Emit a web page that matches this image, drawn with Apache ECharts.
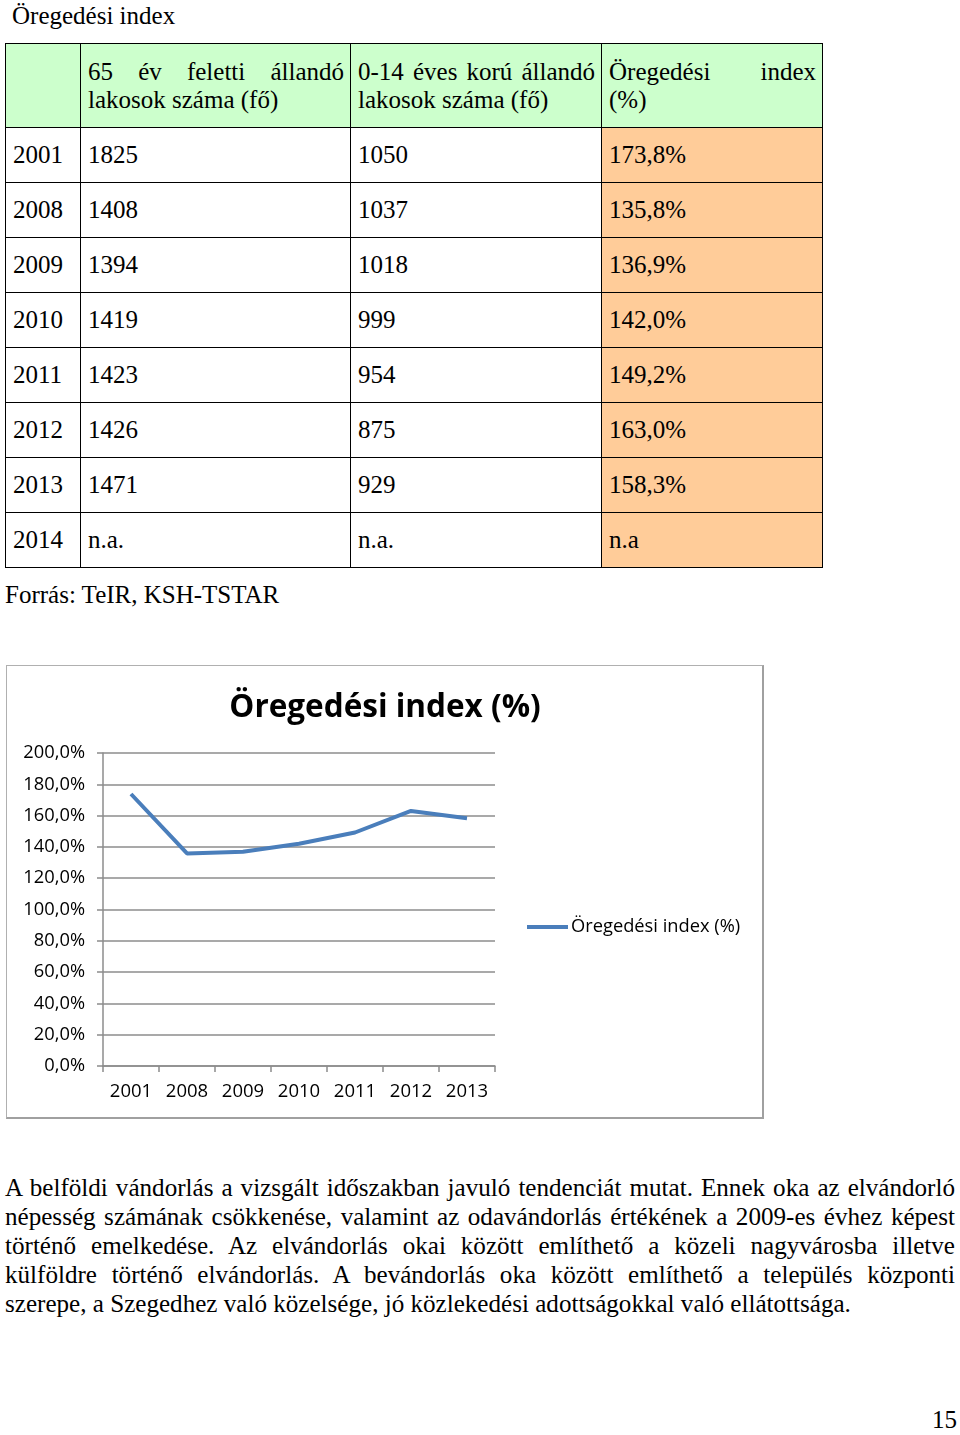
<!DOCTYPE html>
<html>
<head>
<meta charset="utf-8">
<script src="https://cdn.jsdelivr.net/npm/echarts@6/dist/echarts.min.js"></script>
<style>
  html, body { margin:0; padding:0; background:#fff; }
  body { width:960px; height:1435px; position:relative; overflow:hidden; font-family:"Liberation Serif","Times New Roman",serif; color:#000; }
  .abs { position:absolute; white-space:nowrap; font-family:"Liberation Serif","Times New Roman",serif; }
  table { position:absolute; left:5px; top:43px; border-collapse:collapse; font-size:25px; font-family:"Liberation Serif","Times New Roman",serif; }
  td { border:1px solid #000; padding:0 0 0 7px; vertical-align:middle; line-height:28px; box-sizing:border-box; font-family:"Liberation Serif","Times New Roman",serif; }
  tr.h td { background:#CCFFCC; height:84px; }
  tr.r td { height:55px; }
  td.o { background:#FFCC99; }
  .j { text-align:justify; text-align-last:justify; display:block; }
  .para div { position:absolute; left:5px; width:950px; font-size:25.1px; line-height:29px; white-space:nowrap; font-family:"Liberation Serif","Times New Roman",serif; }
  #chartBox { position:absolute; left:6px; top:665px; width:755px; height:451px; border:1.5px solid #b0b0b0; border-right:2.5px solid #a0a0a0; border-bottom:2.5px solid #a0a0a0; }
  #chart { width:755px; height:451px; }
</style>
</head>
<body>
<div class="abs" style="left:12px;top:2px;font-size:25px;">Öregedési index</div>
<table id="tbl"></table>
<div class="abs" style="left:5px;top:581px;font-size:25px;">Forrás: TeIR, KSH-TSTAR</div>
<div id="chartBox"><div id="chart"></div></div>
<div class="para" id="para"></div>
<div class="abs" style="left:932px;top:1406px;font-size:25px;">15</div>
<script>
// ---- data ----
const tableYears = ['2001','2008','2009','2010','2011','2012','2013','2014'];
const over65 = [1825, 1408, 1394, 1419, 1423, 1426, 1471, null];
const under14 = [1050, 1037, 1018, 999, 954, 875, 929, null];
const agingIndex = [173.8, 135.8, 136.9, 142.0, 149.2, 163.0, 158.3, null];
const chartYears = ['2001','2008','2009','2010','2011','2012','2013'];
const chartValues = [173.8, 135.8, 136.9, 142.0, 149.2, 163.0, 158.3];
const yTicks = [0, 20, 40, 60, 80, 100, 120, 140, 160, 180, 200];
const seriesName = 'Öregedési index (%)';
const paraLines = [
  'A belföldi vándorlás a vizsgált időszakban javuló tendenciát mutat. Ennek oka az elvándorló',
  'népesség számának csökkenése, valamint az odavándorlás értékének a 2009-es évhez képest',
  'történő emelkedése. Az elvándorlás okai között említhető a közeli nagyvárosba illetve',
  'külföldre történő elvándorlás. A bevándorlás oka között említhető a település központi',
  'szerepe, a Szegedhez való közelsége, jó közlekedési adottságokkal való ellátottsága.'
];

// ---- table ----
const colW = [75, 270, 251, 221];
let html = '<tr class="h">' +
  '<td style="width:'+colW[0]+'px"></td>' +
  '<td style="width:'+colW[1]+'px;padding-right:6px"><span class="j">65 év feletti állandó</span>lakosok száma (fő)</td>' +
  '<td style="width:'+colW[2]+'px;padding-right:6px"><span class="j">0-14 éves korú állandó</span>lakosok száma (fő)</td>' +
  '<td style="width:'+colW[3]+'px;padding-right:6px"><span class="j">Öregedési index</span>(%)</td></tr>';
const fmtPct = v => v == null ? 'n.a' : v.toFixed(1).replace('.', ',') + '%';
tableYears.forEach((y, i) => {
  html += '<tr class="r"><td>' + y + '</td><td>' + (over65[i] == null ? 'n.a.' : over65[i]) +
    '</td><td>' + (under14[i] == null ? 'n.a.' : under14[i]) +
    '</td><td class="o">' + fmtPct(agingIndex[i]) + '</td></tr>';
});
document.getElementById('tbl').innerHTML = html;

// ---- paragraph ----
const para = document.getElementById('para');
paraLines.forEach((t, i) => {
  const d = document.createElement('div');
  d.textContent = t;
  d.style.top = (1173 + i * 29) + 'px';
  if (i < paraLines.length - 1) { d.style.whiteSpace = 'normal'; d.style.textAlign = 'justify'; d.style.textAlignLast = 'justify'; }
  para.appendChild(d);
});

// ---- chart ----
const chart = echarts.init(document.getElementById('chart'), null, { renderer: 'canvas' });
const lblFont = '"Open Sans","Noto Sans",sans-serif';
chart.setOption({
  animation: false,
  title: {
    text: 'Öregedési index (%)',
    left: 373, top: 21, textAlign: 'center',
    textStyle: { fontFamily: lblFont, fontSize: 31.5, fontWeight: 'bold', color: '#000' }
  },
  grid: { left: 96, top: 87, width: 392, height: 313 },
  legend: {
    data: [seriesName],
    left: 515, top: 247,
    icon: 'rect', itemWidth: 41, itemHeight: 4, itemGap: 0,
    textStyle: { fontFamily: lblFont, fontSize: 18.3, color: '#000', padding: [0, 0, 0, -2] }
  },
  xAxis: {
    type: 'category', data: chartYears, boundaryGap: true,
    axisLine: { lineStyle: { color: '#8c8c8c', width: 1.5 } },
    axisTick: { show: true, length: 6, lineStyle: { color: '#8c8c8c', width: 1.5 } },
    axisLabel: { margin: 16, fontFamily: lblFont, fontSize: 18.5, color: '#000' }
  },
  yAxis: {
    type: 'value', min: yTicks[0], max: yTicks[yTicks.length - 1], interval: yTicks[1] - yTicks[0],
    axisLine: { show: true, lineStyle: { color: '#8c8c8c', width: 1.5 } },
    axisTick: { show: true, length: 6, lineStyle: { color: '#8c8c8c', width: 1.5 } },
    splitLine: { lineStyle: { color: '#8c8c8c', width: 1.5 } },
    axisLabel: {
      margin: 18, fontFamily: lblFont, fontSize: 18.3, color: '#000',
      formatter: v => v.toFixed(1).replace('.', ',') + '%'
    }
  },
  series: [{
    name: seriesName, type: 'line', data: chartValues,
    symbol: 'none', lineStyle: { color: '#4A7EBB', width: 4 }, itemStyle: { color: '#4A7EBB' }
  }]
});
</script>
</body>
</html>
